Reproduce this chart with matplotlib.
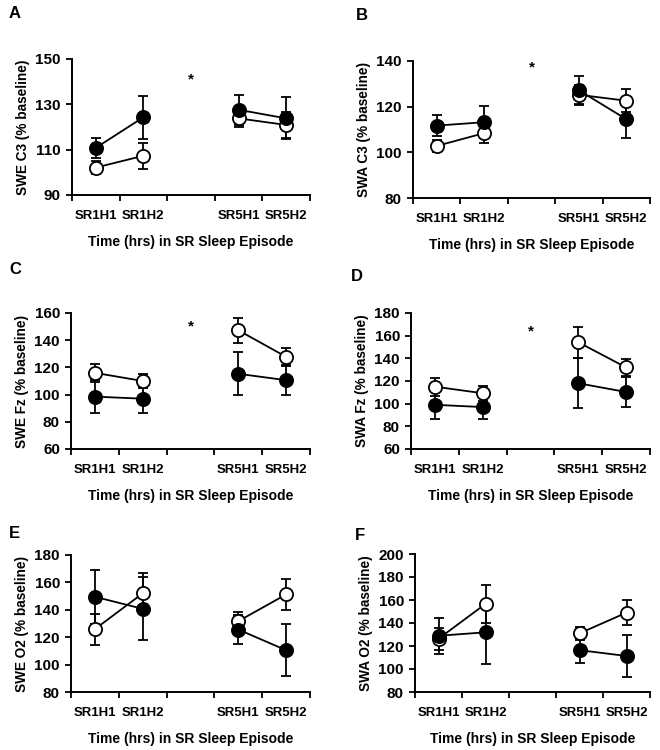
import numpy as np
import matplotlib
matplotlib.use("Agg")
import matplotlib.pyplot as plt

plt.rcParams["font.family"] = ["Liberation Sans", "DejaVu Sans"]
plt.rcParams["font.weight"] = "bold"
plt.rcParams["axes.labelweight"] = "bold"

# category positions: SR1H1, SR1H2, (gap), SR5H1, SR5H2
categories = ["SR1H1", "SR1H2", "SR5H1", "SR5H2"]
cat_pos = [0, 1, 3, 4]
x_label = "Time (hrs) in SR Sleep Episode"

# A: SWE C3
swe_c3_filled = [110.8, 124.3, 127.6, 123.8]
swe_c3_filled_err = [4.5, 9.4, 6.6, 9.3]
swe_c3_open = [102.1, 107.3, 123.8, 120.9]
swe_c3_open_err = [2.9, 5.8, 3.7, 5.9]

# B: SWA C3
swa_c3_filled = [111.7, 113.2, 127.2, 114.5]
swa_c3_filled_err = [4.7, 6.9, 6.2, 8.4]
swa_c3_open = [102.8, 108.4, 125.2, 122.6]
swa_c3_open_err = [2.8, 4.4, 4.5, 5.0]

# C: SWE Fz
swe_fz_filled = [98.5, 97.0, 115.3, 110.6]
swe_fz_filled_err = [12.2, 10.2, 15.8, 11.2]
swe_fz_open = [116.0, 110.0, 147.3, 127.8]
swe_fz_open_err = [6.8, 5.1, 9.3, 6.8]

# D: SWA Fz
swa_fz_filled = [99.0, 97.0, 118.0, 110.3]
swa_fz_filled_err = [12.5, 10.3, 22.0, 12.8]
swa_fz_open = [115.0, 109.2, 154.2, 132.0]
swa_fz_open_err = [7.9, 6.7, 13.5, 7.6]

# E: SWE O2
swe_o2_filled = [149.5, 140.7, 125.6, 110.5]
swe_o2_filled_err = [19.8, 23.0, 10.7, 18.8]
swe_o2_open = [125.9, 152.0, 131.7, 151.2]
swe_o2_open_err = [11.3, 14.6, 6.6, 11.6]

# F: SWA O2
swa_o2_filled = [128.9, 131.9, 116.4, 111.3]
swa_o2_filled_err = [15.8, 27.8, 10.8, 18.5]
swa_o2_open = [126.3, 156.6, 131.0, 149.0]
swa_o2_open_err = [9.5, 16.6, 5.8, 11.1]

W, H = 660, 750


def px_rect(x0, y0, x1, y1):
    return [x0 / W, 1 - y1 / H, (x1 - x0) / W, (y1 - y0) / H]


def draw_series(ax, vals, errs, face):
    # two separate segments, no line across the gap
    for seg in ([0, 1], [2, 3]):
        xs = [cat_pos[i] for i in seg]
        ys = [vals[i] for i in seg]
        es = [errs[i] for i in seg]
        ax.errorbar(xs, ys, yerr=es, color="black", lw=1.3, elinewidth=1.3,
                    capsize=3.8, capthick=1.3, marker="o", ms=9.5,
                    mfc=face, mec="black", mew=1.3, zorder=3)


def panel(rect, letter, letter_xy, ylabel, ylim, filled, filled_err, opn, opn_err, star=None):
    ax = fig.add_axes(px_rect(*rect))
    draw_series(ax, opn, opn_err, "white")
    draw_series(ax, filled, filled_err, "black")

    ax.set_xlim(-0.5, 4.5)
    ax.set_ylim(*ylim)
    ax.set_yticks(np.arange(ylim[0], ylim[1] + 1, 20))
    ax.set_xticks(np.arange(-0.5, 4.6, 1.0))
    ax.set_xticklabels([])
    ax.set_xticks(cat_pos, minor=True)
    ax.set_xticklabels(categories, minor=True)
    ax.tick_params(axis="x", which="minor", length=0, pad=11, labelsize=9.5)
    ax.tick_params(axis="x", which="major", length=4, width=1.3, direction="out")
    ax.tick_params(axis="y", length=4, width=1.3, direction="out", pad=4, labelsize=11)

    for s in ("top", "right"):
        ax.spines[s].set_visible(False)
    for s in ("left", "bottom"):
        ax.spines[s].set_linewidth(1.4)

    ax.set_ylabel(ylabel, fontsize=9.8, labelpad=4)
    ax.set_xlabel(x_label, fontsize=10, labelpad=9)

    if star is not None:
        ax.text(2, star, "*", ha="center", va="center", fontsize=11)

    fig.text(letter_xy[0] / W, 1 - letter_xy[1] / H, letter, fontsize=12,
             fontweight="bold", ha="left", va="center")
    return ax


fig = plt.figure(figsize=(6.6, 7.5), dpi=100)
fig.patch.set_facecolor("white")

panel((72, 59, 310, 195), "A", (9, 14), "SWE C3 (% baseline)", (90, 150),
      swe_c3_filled, swe_c3_filled_err, swe_c3_open, swe_c3_open_err, star=141)
panel((413, 61, 650, 198), "B", (356, 15), "SWA C3 (% baseline)", (80, 140),
      swa_c3_filled, swa_c3_filled_err, swa_c3_open, swa_c3_open_err, star=137)
panel((71, 313, 310, 449), "C", (9, 270), "SWE Fz (% baseline)", (60, 160),
      swe_fz_filled, swe_fz_filled_err, swe_fz_open, swe_fz_open_err, star=150)
panel((411, 313, 650, 449), "D", (351, 277), "SWA Fz (% baseline)", (60, 180),
      swa_fz_filled, swa_fz_filled_err, swa_fz_open, swa_fz_open_err, star=164)
panel((71, 555, 310, 692), "E", (9, 534), "SWE O2 (% baseline)", (80, 180),
      swe_o2_filled, swe_o2_filled_err, swe_o2_open, swe_o2_open_err)
panel((415, 554, 650, 692), "F", (355, 536), "SWA O2 (% baseline)", (80, 200),
      swa_o2_filled, swa_o2_filled_err, swa_o2_open, swa_o2_open_err)

fig.savefig("out.png", dpi=100, facecolor="white")
